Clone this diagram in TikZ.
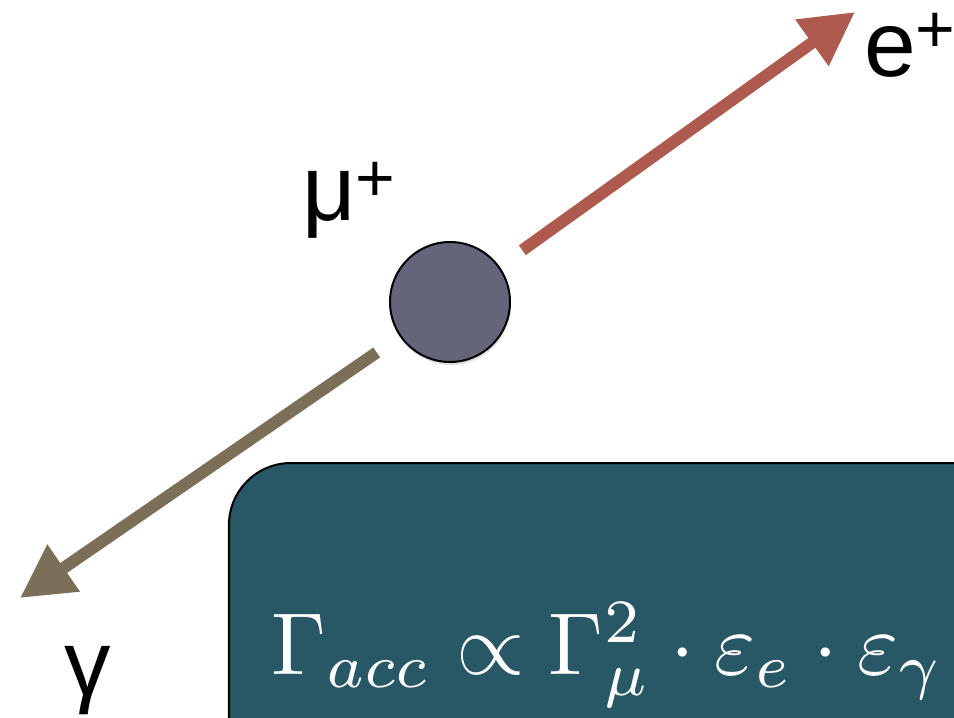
\documentclass[tikz,border=0pt]{standalone}
\usepackage{graphicx}
\usepackage{fontspec}
\newfontfamily\labelfont{Liberation Sans}
\usetikzlibrary{arrows.meta,shadows}
\definecolor{electron}{RGB}{174,90,78}
\definecolor{photon}{RGB}{124,111,88}
\definecolor{muonfill}{RGB}{100,100,122}
\definecolor{panelfill}{RGB}{40,87,102}
\newcommand{\chargeplus}[1]{\raisebox{#1}{\fontsize{68}{68}\selectfont +}}
\tikzset{
  particle/.style={font=\labelfont\fontsize{93}{100}\selectfont, inner sep=0pt},
  track/.style={line width=12pt, -{Triangle[length=53pt,width=54pt]}, shorten <=28pt},
}
\begin{document}
\begin{tikzpicture}[x=1pt,y=-1pt]
    \useasboundingbox (0,0) rectangle (954,718);
    \clip (0,0) rectangle (954,718);

    \node[draw=black, line width=2pt, rounded corners=62pt, fill=panelfill,
          drop shadow={opacity=0.25,shadow xshift=-2pt,shadow yshift=-2pt},
          minimum width=820pt, minimum height=380pt, anchor=north west] (panel) at (228,462) {};
    \node[text=white, inner sep=0pt, anchor=base west]
          (rate) at (271,674) {\scalebox{8.8}{$\Gamma_{acc}\propto\Gamma_\mu^2\cdot\varepsilon_e\cdot\varepsilon_\gamma$}};

    \node[circle, draw=black, line width=2pt, fill=muonfill, minimum size=120pt,
          drop shadow={opacity=0.25,shadow xshift=1pt,shadow yshift=-3pt}] (mu) at (450,302) {};
    \coordinate (etip) at (855,12);
    \coordinate (gtip) at (20,598);

    \node[particle, anchor=base west] (mulabel) at (302,220) {μ\chargeplus{19pt}};
    \node[particle, anchor=base west] (elabel) at (864,76) {e\chargeplus{24pt}};
    \node[particle, anchor=base west] (glabel) at (64,695) {γ};

    \draw[track, electron] (mu) -- (etip);
    \draw[track, photon] (mu) -- (gtip);
  \end{tikzpicture}
\end{document}
